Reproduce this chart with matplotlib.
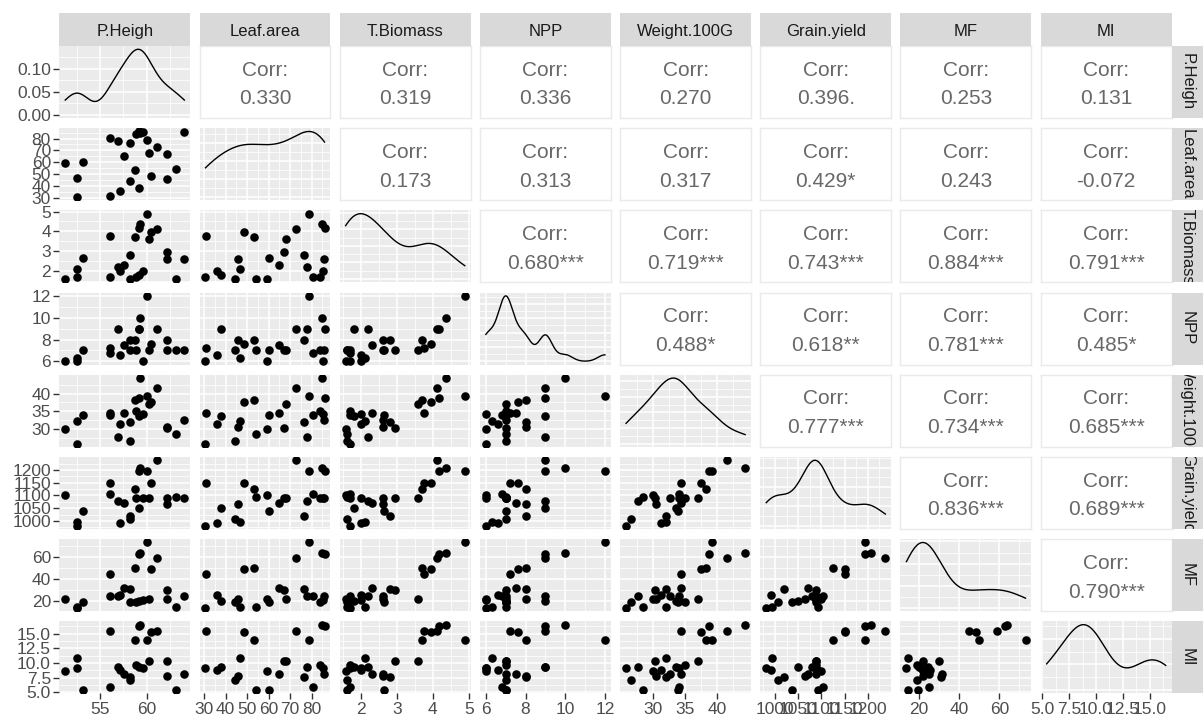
import numpy as np
import matplotlib.pyplot as plt

plt.rcParams['font.family'] = ['Liberation Sans', 'DejaVu Sans']

names = ['P.Heigh', 'Leaf.area', 'T.Biomass', 'NPP', 'Weight.100G', 'Grain.yield', 'MF', 'MI']

p_heigh = [51.3, 52.6, 52.6, 53.2, 56.1, 56.1, 56.9, 57.1, 57.6, 58.2, 58.2, 58.7, 58.8,
           59.2, 59.3, 59.2, 59.6, 60.0, 60.2, 60.4, 61.1, 62.1, 62.1, 63.1, 64.0]
leaf_area = [59.0, 46.7, 30.6, 60.3, 80.6, 31.0, 77.8, 36.0, 65.0, 76.4, 44.4, 53.3, 84.0,
             38.0, 85.0, 86.0, 85.5, 79.0, 68.0, 48.6, 72.8, 67.2, 45.8, 54.0, 85.6]
t_biomass = [1.57, 2.10, 1.70, 2.64, 1.70, 3.75, 2.20, 2.00, 2.30, 2.80, 1.60, 3.70, 1.70,
             1.80, 4.36, 4.17, 2.00, 4.89, 3.60, 3.94, 4.12, 2.95, 2.60, 1.60, 2.60]
npp = [6.0, 6.3, 6.0, 7.0, 6.8, 7.2, 9.0, 6.6, 7.5, 8.0, 7.0, 8.0, 7.0,
       9.0, 10.0, 9.0, 6.0, 12.0, 7.0, 7.6, 9.0, 7.0, 8.0, 7.0, 7.0]
weight_100g = [30.0, 32.1, 25.8, 33.9, 34.0, 34.4, 27.7, 31.3, 34.4, 32.0, 26.6, 38.3, 35.0,
               33.6, 44.4, 38.8, 34.1, 39.2, 37.0, 37.5, 41.6, 30.3, 30.5, 28.5, 32.6]
grain_yield = [1100, 994, 981, 1037, 1104, 1150, 1079, 991, 1071, 1019, 1006, 1125, 1088,
               1050, 1206, 1195, 1088, 1194, 1088, 1150, 1238, 1088, 1065, 1092, 1088]
mf = [22.0, 15.0, 14.0, 19.6, 25.0, 44.8, 24.5, 25.5, 31.8, 31.0, 19.0, 50.0, 19.0,
      20.0, 63.6, 63.0, 21.0, 73.0, 22.0, 48.7, 59.0, 30.0, 22.0, 15.0, 25.0]
mi = [8.7, 10.8, 9.2, 5.4, 6.0, 15.5, 9.4, 8.8, 8.2, 7.6, 7.2, 13.9, 9.7,
      9.4, 16.5, 16.3, 9.1, 13.9, 10.3, 15.2, 15.4, 10.3, 7.8, 5.4, 8.2]

# axis breaks and labels
breaks = [[55, 60], [30, 40, 50, 60, 70, 80], [2, 3, 4, 5], [6, 8, 10, 12],
          [30, 35, 40], [1000, 1050, 1100, 1150, 1200], [20, 40, 60],
          [5.0, 7.5, 10.0, 12.5, 15.0]]
break_labels = [['55', '60'], ['30', '40', '50', '60', '70', '80'], ['2', '3', '4', '5'],
                ['6', '8', '10', '12'], ['30', '35', '40'],
                ['1000', '1050', '1100', '1150', '1200'], ['20', '40', '60'],
                ['5.0', '7.5', '10.0', '12.5', '15.0']]
dens_breaks = [0.00, 0.05, 0.10]
dens_labels = ['0.00', '0.05', '0.10']

# upper triangle text, row by row
corr_labels = ['0.330', '0.319', '0.336', '0.270', '0.396.', '0.253', '0.131',
               '0.173', '0.313', '0.317', '0.429*', '0.243', '-0.072',
               '0.680***', '0.719***', '0.743***', '0.884***', '0.791***',
               '0.488*', '0.618**', '0.781***', '0.485*',
               '0.777***', '0.734***', '0.685***',
               '0.836***', '0.689***',
               '0.790***']

data = [np.array(v, dtype=float) for v in
        [p_heigh, leaf_area, t_biomass, npp, weight_100g, grain_yield, mf, mi]]
nv = len(names)

W, H = 1203, 724
fig = plt.figure(figsize=(W / 100, H / 100), dpi=100)


def px_axes(x, y, w, h):
    return fig.add_axes([x / W, 1 - (y + h) / H, w / W, h / H])


def lims(v):
    r = v.max() - v.min()
    return v.min() - 0.05 * r, v.max() + 0.05 * r


def minors(major, lo, hi):
    step = major[1] - major[0]
    cand = [major[0] - step / 2] + [(a + b) / 2 for a, b in zip(major[:-1], major[1:])] \
        + [major[-1] + step / 2]
    return [c for c in cand if lo <= c <= hi]


def bw_nrd0(x):
    q75, q25 = np.percentile(x, [75, 25])
    lo = min(np.std(x, ddof=1), (q75 - q25) / 1.34)
    return 0.9 * lo * len(x) ** -0.2


def kde(x):
    bw = bw_nrd0(x)
    g = np.linspace(x.min(), x.max(), 512)
    d = np.exp(-0.5 * ((g[:, None] - x[None, :]) / bw) ** 2).sum(1) / (len(x) * bw * np.sqrt(2 * np.pi))
    return g, d


def dens_breaks_auto(top):
    for step in [0.001, 0.002, 0.0025, 0.005, 0.01, 0.02, 0.025, 0.05, 0.1, 0.2, 0.25, 0.5, 1]:
        if top / step <= 5:
            return list(np.arange(0, top + 1e-12, step))
    return [0]


left0, dx, pw = 59.3, 140.2, 131
top0, dy, ph = 46, 82.2, 72
panel_bg = '#EBEBEB'
tick_col = '#4D4D4D'
fs_tick = 12.5

for i in range(nv):
    for j in range(nv):
        ax = px_axes(left0 + j * dx, top0 + i * dy, pw, ph)
        for s in ax.spines.values():
            s.set_visible(False)
        ax.tick_params(which='both', length=0, labelleft=False, labelbottom=False)

        if i < j:
            # correlation box
            ax.set_facecolor('white')
            for s in ax.spines.values():
                s.set_visible(True)
                s.set_color('#EAEAEA')
                s.set_linewidth(1.0)
            ax.set_xticks([])
            ax.set_yticks([])
            k = sum(nv - 1 - r for r in range(i)) + (j - i - 1)
            ax.text(0.5, 0.665, 'Corr:', transform=ax.transAxes, ha='center', va='center',
                    fontsize=15, color='#686868')
            ax.text(0.5, 0.265, corr_labels[k], transform=ax.transAxes, ha='center', va='center',
                    fontsize=15, color='#686868')
            continue

        ax.set_facecolor(panel_bg)
        xlo, xhi = lims(data[j])
        ax.set_xlim(xlo, xhi)
        ax.set_xticks(breaks[j])
        ax.set_xticks(minors(breaks[j], xlo, xhi), minor=True)

        if i == j:
            g, d = kde(data[j])
            top = d.max()
            ax.set_ylim(-0.05 * top, 1.05 * top)
            yb = dens_breaks if i == 0 else dens_breaks_auto(1.05 * top)
            ax.set_yticks(yb)
            ax.set_yticks(minors(yb, -0.05 * top, 1.05 * top), minor=True)
            ax.plot(g, d, color='black', lw=1.0, zorder=3)
            if i == 0:
                ax.set_yticklabels(dens_labels)
        else:
            ylo, yhi = lims(data[i])
            ax.set_ylim(ylo, yhi)
            ax.set_yticks(breaks[i])
            ax.set_yticks(minors(breaks[i], ylo, yhi), minor=True)
            ax.scatter(data[j], data[i], s=38, color='black', linewidths=0, zorder=3)
            if j == 0:
                ax.set_yticklabels(break_labels[i])

        ax.grid(which='major', color='white', lw=1.1)
        ax.grid(which='minor', color='white', lw=0.55)
        ax.set_axisbelow(True)

        if j == 0:
            ax.tick_params(axis='y', which='major', length=4, width=1, color='#333333',
                           labelleft=True, labelsize=fs_tick, labelcolor=tick_col, pad=2)
        if i == nv - 1:
            ax.set_xticklabels(break_labels[j])
            ax.tick_params(axis='x', which='major', length=4, width=1, color='#333333',
                           labelbottom=True, labelsize=fs_tick, labelcolor=tick_col, pad=2)

# strips
strip_bg = '#D9D9D9'
for j in range(nv):
    sa = px_axes(left0 + j * dx, 13, pw, top0 - 13)
    sa.set_facecolor(strip_bg)
    sa.set_xticks([])
    sa.set_yticks([])
    for s in sa.spines.values():
        s.set_visible(False)
    sa.text(0.5, 0.45, names[j], transform=sa.transAxes, ha='center', va='center',
            fontsize=12, color='#1A1A1A', clip_on=True)

rx = left0 + (nv - 1) * dx + pw
for i in range(nv):
    sa = px_axes(rx, top0 + i * dy, W - rx, ph)
    sa.set_facecolor(strip_bg)
    sa.set_xticks([])
    sa.set_yticks([])
    for s in sa.spines.values():
        s.set_visible(False)
    sa.text(0.5, 0.5, names[i], transform=sa.transAxes, ha='center', va='center',
            fontsize=12, color='#1A1A1A', rotation=-90, clip_on=True)

fig.savefig('out.png', dpi=100, facecolor='white')
